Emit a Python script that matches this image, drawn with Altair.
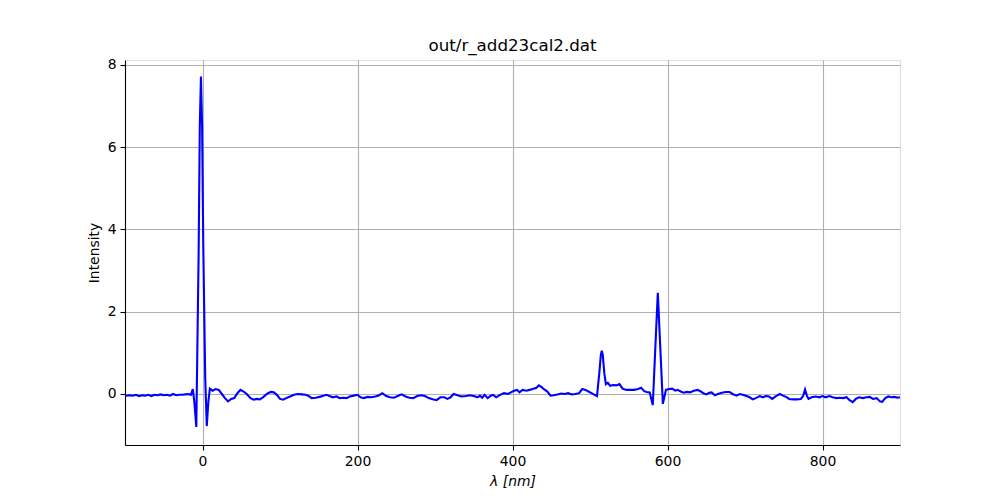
import altair as alt
import pandas as pd

wavelength = [
    -100, -95, -90, -86, -82, -78, -74, -70, -66, -62, -58, -54, -50, -46, -42, -38, -34, -30, -26, -22,
    -18, -15, -12.5, -10.5, -8, -5, -3.5, -2, -0.5, 1, 3.5, 5.5, 7.5, 9.5, 13, 17, 21, 25, 29, 33,
    37, 41, 45, 49, 53, 57, 62, 66, 70, 74, 78, 83, 88, 92, 96, 100, 104, 108, 113, 118,
    123, 128, 133, 137, 141, 146, 151, 156, 160, 164, 168, 173, 177, 182, 186, 190, 195, 200, 204, 208,
    213, 218, 223, 228, 232, 237, 242, 247, 252, 257, 262, 267, 272, 277, 282, 287, 292, 297, 302, 307,
    312, 316, 320, 324, 329, 334, 340, 345, 350, 355, 358, 361, 364, 368, 372, 375, 379, 384, 389, 394,
    398, 402, 406, 409, 413, 418, 422, 426, 431, 434, 438, 441, 445, 449, 453, 458, 463, 467, 472, 476,
    481, 486, 490, 494, 498, 502, 506, 509, 512, 514, 515.2, 516.5, 518.5, 520.5, 523, 526, 530, 534, 538, 542,
    547, 552, 557, 562, 566, 570, 573, 577, 581, 584, 587.5, 591, 594, 598, 602, 606, 610, 613, 617, 621,
    625, 629, 634, 639, 643, 647, 650, 654, 657, 661, 665, 670, 675, 680, 684, 689, 693, 697, 702, 706,
    710, 714, 719, 723, 727, 731, 735, 740, 745, 749, 753, 757, 762, 767, 772, 775, 777.5, 780, 782, 786,
    791, 796, 800, 804, 809, 813, 818, 822, 827, 831, 835, 839, 843, 847, 852, 857, 861, 865, 870, 874,
    877, 881, 885, 889, 893, 897, 900,
]

intensity = [
    -0.05, -0.03, -0.04, -0.02, -0.05, -0.03, -0.04, -0.02, -0.05, -0.02, -0.03, -0.01, -0.03, -0.02, -0.04, 0.0, -0.03, -0.02, -0.02, -0.01,
    0.0, -0.02, 0.12, -0.2, -0.8, 3.4, 6.5, 7.72, 6.5, 3.6, 0.4, -0.78, -0.2, 0.13, 0.08, 0.12, 0.1, 0.0, -0.1, -0.18,
    -0.12, -0.1, 0.02, 0.1, 0.06, 0.0, -0.1, -0.14, -0.12, -0.13, -0.08, 0.0, 0.05, 0.04, -0.02, -0.12, -0.14, -0.1, -0.06, -0.02,
    0.0, -0.01, -0.02, -0.05, -0.1, -0.09, -0.07, -0.04, -0.02, -0.05, -0.08, -0.06, -0.1, -0.09, -0.1, -0.06, -0.04, -0.02, -0.08, -0.1,
    -0.07, -0.08, -0.06, -0.03, 0.02, -0.05, -0.08, -0.09, -0.05, -0.01, -0.06, -0.09, -0.1, -0.05, -0.03, -0.05, -0.1, -0.13, -0.15, -0.08,
    -0.08, -0.12, -0.08, 0.0, -0.03, -0.06, -0.05, -0.03, -0.05, -0.08, -0.04, -0.09, -0.02, -0.1, -0.04, -0.02, -0.08, -0.02, 0.02, 0.0,
    0.04, 0.08, 0.1, 0.04, 0.1, 0.08, 0.1, 0.12, 0.15, 0.21, 0.16, 0.11, 0.06, -0.04, -0.03, -0.01, 0.01, 0.0, 0.02, -0.01,
    0.0, 0.02, 0.12, 0.1, 0.06, 0.02, -0.02, -0.05, 0.5, 0.95, 1.05, 0.95, 0.5, 0.24, 0.27, 0.2, 0.22, 0.21, 0.24, 0.13,
    0.1, 0.1, 0.1, 0.12, 0.15, 0.07, 0.05, 0.04, -0.27, 1.0, 2.46, 1.0, -0.24, 0.1, 0.12, 0.13, 0.08, 0.1, 0.06, 0.03,
    0.05, 0.04, 0.08, 0.1, 0.06, 0.01, -0.01, 0.03, 0.04, -0.03, 0.0, 0.03, 0.05, 0.05, 0.0, -0.04, 0.0, -0.02, -0.05, -0.08,
    -0.13, -0.1, -0.05, -0.08, -0.05, -0.06, -0.12, -0.05, 0.0, -0.04, -0.07, -0.12, -0.13, -0.13, -0.12, -0.05, 0.11, -0.05, -0.12, -0.08,
    -0.06, -0.08, -0.05, -0.08, -0.05, -0.08, -0.1, -0.09, -0.1, -0.08, -0.15, -0.2, -0.12, -0.08, -0.1, -0.08, -0.07, -0.12, -0.1, -0.18,
    -0.19, -0.1, -0.06, -0.08, -0.07, -0.09, -0.08,
]

x_ticks = [0, 200, 400, 600, 800]
y_ticks = [0, 2, 4, 6, 8]
x_domain = [-100, 900]
y_domain = [-1.24, 8.12]

df = pd.DataFrame({"wavelength": wavelength, "intensity": intensity})

font = "DejaVu Sans"

chart = alt.Chart(df).mark_line(color="#0000ff", strokeWidth=2.1, clip=True).encode(
    x=alt.X(
        "wavelength:Q",
        scale=alt.Scale(domain=x_domain, nice=False, zero=False),
        axis=alt.Axis(
            values=x_ticks, title="λ [nm]", titleFontStyle="italic", titleFontWeight="normal",
            titleFont=font, titleFontSize=13.9, titleColor="black", titlePadding=7,
            labelFont=font, labelFontSize=13.9, labelColor="black", labelPadding=4,
            tickColor="black", tickSize=5, tickWidth=1.1, domainColor="black", domainWidth=1.1,
            grid=True, gridColor="#b0b0b0", gridWidth=1.1, labelFlush=False,
        ),
    ),
    y=alt.Y(
        "intensity:Q",
        scale=alt.Scale(domain=y_domain, nice=False, zero=False),
        axis=alt.Axis(
            values=y_ticks, title="Intensity", titleFontWeight="normal",
            titleFont=font, titleFontSize=13.9, titleColor="black", titlePadding=6,
            labelFont=font, labelFontSize=13.9, labelColor="black", labelPadding=4,
            tickColor="black", tickSize=5, tickWidth=1.1, domainColor="black", domainWidth=1.1,
            grid=True, gridColor="#b0b0b0", gridWidth=1.1, labelFlush=False,
        ),
    ),
).properties(
    width=775,
    height=385,
    title=alt.Title("out/r_add23cal2.dat", font=font, fontSize=16.7, fontWeight="normal",
                    color="black", anchor="middle", offset=3),
    padding={"left": 117, "top": 52, "right": 60, "bottom": 52},
    autosize=alt.AutoSizeParams(type="none"),
).configure_view(
    stroke="black", strokeWidth=1.1
).configure(background="white")

chart.save("out.html", embed_options={"renderer": "svg", "actions": False})
